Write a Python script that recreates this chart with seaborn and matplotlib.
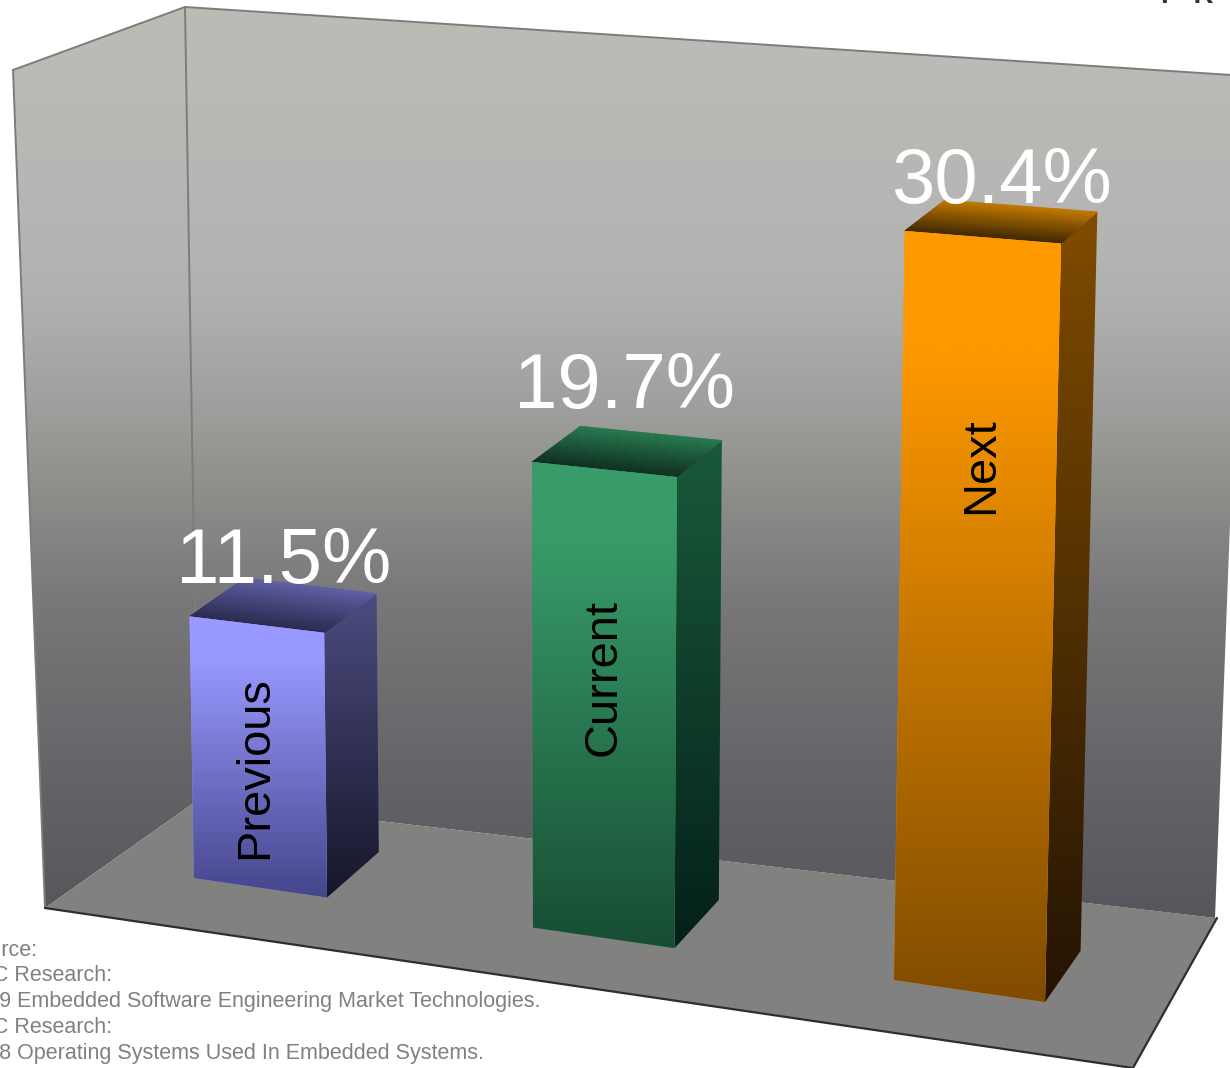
import numpy as np
import pandas as pd
import matplotlib
matplotlib.use("Agg")
import matplotlib.pyplot as plt
from matplotlib.collections import PolyCollection
from matplotlib.patches import Polygon
from matplotlib.transforms import Transform
import seaborn as sns

# Chart values
cycles = ["Previous", "Current", "Next"]
shares = [11.5, 19.7, 30.4]
value_labels = ["11.5%", "19.7%", "30.4%"]
bar_colors = ["#9999ff", "#339966", "#ff9900"]

# Shading of each bar: (top, bottom) colours of the front and side faces,
# (front edge, back edge) colours of the roof
front_shades = [("#9999ff", "#45458c"), ("#389c6a", "#174d33"), ("#ff9900", "#804c00")]
side_shades = [("#4c4c80", "#16162a"), ("#1a5a3a", "#04201a"), ("#804c00", "#241404")]
roof_shades = [("#2a2a50", "#5e5ea4"), ("#0e2e20", "#26784e"), ("#3f2600", "#c07800")]

source_lines = [
    "Source:",
    "VDC Research:",
    "2009 Embedded Software Engineering Market Technologies.",
    "VDC Research:",
    "2008 Operating Systems Used In Embedded Systems.",
]

BAR_WIDTH = 0.40
W, H = 1230, 1068

sns.set_theme(style="white")
plt.rcParams["font.family"] = ["Liberation Sans", "DejaVu Sans"]

# Survey points for the oblique view: (category, share, depth) -> canvas position
h = BAR_WIDTH / 2
survey = np.array([
    (0 - h, 11.5, 0, 188, 617), (0 + h, 11.5, 0, 327, 632), (0 - h, 0, 0, 193, 878), (0 + h, 0, 0, 327, 897),
    (0 - h, 11.5, 1, 245, 577), (0 + h, 11.5, 1, 378, 593), (0 + h, 0, 1, 379, 852),
    (1 - h, 19.7, 0, 533, 463), (1 + h, 19.7, 0, 675, 478), (1 - h, 0, 0, 532, 927), (1 + h, 0, 0, 675, 947),
    (1 - h, 19.7, 1, 580, 426), (1 + h, 19.7, 1, 720, 440), (1 + h, 0, 1, 720, 905),
    (2 - h, 30.4, 0, 906, 231), (2 + h, 30.4, 0, 1062, 243), (2 - h, 0, 0, 893, 981), (2 + h, 0, 0, 1045, 1002),
    (2 - h, 30.4, 1, 943, 200), (2 + h, 30.4, 1, 1098, 212), (2 + h, 0, 1, 1081, 948),
])


def fit_camera(points):
    rows = []
    for u, v, d, x, y in points:
        rows.append([u, v, d, 1, 0, 0, 0, 0, -x * u, -x * v, -x * d, -x])
        rows.append([0, 0, 0, 0, u, v, d, 1, -y * u, -y * v, -y * d, -y])
    return np.linalg.svd(np.array(rows, float))[2][-1].reshape(3, 4)


CAMERA = fit_camera(survey)


def project(u, v, d):
    u, v, d = np.broadcast_arrays(np.asarray(u, float), np.asarray(v, float), np.asarray(d, float))
    p = CAMERA @ np.stack([u, v, d, np.ones_like(u)])
    return (p[:2] / p[2]).T


class ObliquePlane(Transform):
    """Maps (category, share) at a fixed depth onto the canvas."""
    input_dims = output_dims = 2

    def __init__(self, plane_depth=0.0):
        super().__init__()
        self.plane_depth = plane_depth

    def transform_non_affine(self, values):
        values = np.asarray(values, float)
        return project(values[:, 0], values[:, 1], self.plane_depth)


fig = plt.figure(figsize=(W / 100, H / 100), dpi=100, facecolor="white")
canvas = fig.add_axes([0, 0, 1, 1], zorder=1)
canvas.axis("off")
canvas.set_xlim(0, W)
canvas.set_ylim(H, 0)
plot_ax = fig.add_axes([0, 0, 1, 1], zorder=2)
plot_ax.patch.set_visible(False)


def ramp(stops, n=256):
    """Vertical colour ramp from (position, colour) stops."""
    pos = [s[0] for s in stops]
    rgb = np.array([matplotlib.colors.to_rgb(s[1]) for s in stops])
    t = np.linspace(0, 1, n)
    return np.stack([np.interp(t, pos, rgb[:, i]) for i in range(3)], axis=1)[:, None, :]


def shade(clip, stops, y0, y1, zorder=1):
    img = canvas.imshow(ramp(stops), extent=(-5, W + 5, y1, y0), aspect="auto",
                        interpolation="bilinear", zorder=zorder)
    img.set_clip_path(clip)
    return img


# Chart box: back wall, side wall and floor
wall_top, wall_bottom = 7, 925
wall_levels = [(7, "#bcbcb7"), (250, "#b4b4b3"), (300, "#b0b0ae"), (400, "#a0a09e"), (500, "#8c8c89"),
               (600, "#78787b"), (700, "#6d6d70"), (800, "#626266"), (925, "#55555b")]
wall_stops = [((y - wall_top) / (wall_bottom - wall_top), c) for y, c in wall_levels]
back_wall = [(185, 7), (1247, 76), (1215, 918), (198, 800)]
side_wall = [(13, 70), (185, 7), (198, 800), (45, 908)]
floor = [(45, 908), (198, 800), (1217, 918), (1133, 1068)]

for verts in (back_wall, side_wall):
    poly = Polygon(verts, closed=True, facecolor="none", edgecolor="none")
    canvas.add_patch(poly)
    shade(poly, wall_stops, wall_top, wall_bottom, zorder=1)
canvas.add_patch(Polygon(floor, closed=True, facecolor="#818180", edgecolor="none", zorder=2))

canvas.plot(*zip(*[(13, 70), (185, 7), (1247, 76)]), color="#7c7c7a", lw=1.4, zorder=3)
canvas.plot(*zip(*[(13, 70), (45, 908)]), color="#7c7c7a", lw=1.4, zorder=3)
canvas.plot(*zip(*[(185, 7), (198, 800)]), color="#7c7c7a", lw=1.4, zorder=3)
canvas.plot(*zip(*[(45, 908), (1133, 1068), (1217, 918)]), color="#2e2e2e", lw=1.6, zorder=3)

# Bars: seaborn lays out the front faces, the view transform tilts them
table = pd.DataFrame({"cycle": cycles, "share": shares})
sns.barplot(data=table, x="cycle", y="share", hue="cycle", palette=bar_colors,
            width=BAR_WIDTH, saturation=1, legend=False, ax=plot_ax)
plot_ax.axis("off")

front_plane = ObliquePlane(0.0) + canvas.transData
bars = list(plot_ax.patches)
ROOF_SLICES = 40

for i, bar in enumerate(bars):
    x0, x1 = bar.get_x(), bar.get_x() + bar.get_width()
    top = bar.get_height()

    side = Polygon(project([x1, x1, x1, x1], [top, top, 0, 0], [0, 1, 1, 0]), closed=True,
                   facecolor="none", edgecolor="none")
    canvas.add_patch(side)
    ys = side.get_xy()[:, 1]
    shade(side, [(0, side_shades[i][0]), (1, side_shades[i][1])], ys.min(), ys.max(), zorder=5)

    # Roof shaded from front edge to back edge, in strips parallel to the front
    depths = np.linspace(0, 1, ROOF_SLICES + 1)
    strips = [project([x0, x1, x1, x0], top, [a, a, b, b]) for a, b in zip(depths[:-1], depths[1:])]
    strip_colors = ramp([(0, roof_shades[i][0]), (1, roof_shades[i][1])], ROOF_SLICES)[:, 0, :]
    canvas.add_collection(PolyCollection(strips, facecolors=strip_colors, edgecolors=strip_colors,
                                         linewidths=0.5, zorder=5))

    # Front face keeps the bar geometry and takes a gradient clipped to it
    bar.set_transform(front_plane)
    bar.set_clip_on(False)
    bar.set_edgecolor("none")
    corners = project([x0, x1, x1, x0], [top, top, 0, 0], 0.0)
    stops = [(0, front_shades[i][0]), (0.15, front_shades[i][0]), (1, front_shades[i][1])]
    img = plot_ax.imshow(ramp(stops), extent=(corners[:, 0].min() - 2, corners[:, 0].max() + 2,
                                              corners[:, 1].max(), corners[:, 1].min()),
                         aspect="auto", interpolation="bilinear", transform=canvas.transData, zorder=6)
    img.set_clip_path(bar.get_path(), bar.get_transform())

plot_ax.set_xlim(-0.5, 2.5)
plot_ax.set_ylim(0, 35)
canvas.set_xlim(0, W)
canvas.set_ylim(H, 0)

on_canvas = dict(transform=canvas.transData, clip_on=False, zorder=8)

# Value labels above the bars, cycle names inside them
label_centres = [284, 624, 1001]
label_baselines = [583, 408, 203]
for text, x, y in zip(value_labels, label_centres, label_baselines):
    plot_ax.text(x, y, text, color="white", fontsize=56.2, ha="center", va="baseline", **on_canvas)

name_positions = [(255, 768), (604, 678), (981, 466)]
for name, (x, y) in zip(cycles, name_positions):
    plot_ax.text(x, y, name, color="black", fontsize=33.8, rotation=90, ha="center", va="center", **on_canvas)

# Source notes run off the left edge of the figure
for k, line in enumerate(source_lines):
    plot_ax.text(-37, 950 + 25.8 * k, line, color="#808080", fontsize=15.5, ha="left", va="center", **on_canvas)

# Heading sits above the top edge, only its feet show
plot_ax.text(1161, 3, "F  R", color="#333333", fontsize=20, fontweight="bold", ha="left", va="baseline", **on_canvas)

fig.savefig("out.png", dpi=100, facecolor="white")
